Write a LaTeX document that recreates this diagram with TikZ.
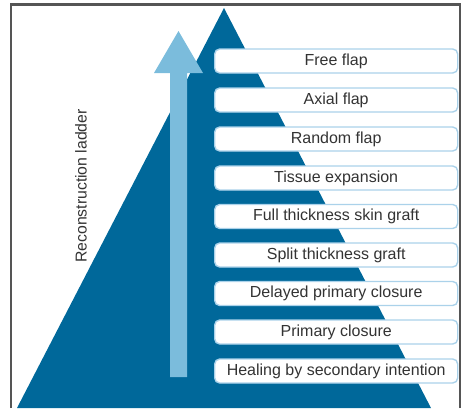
\documentclass[tikz,border=0pt]{standalone}
\usepackage{fontspec}
\setmainfont{Liberation Sans}
\definecolor{pyrblue}{HTML}{00689A}
\definecolor{arrowblue}{HTML}{7BBCDC}
\definecolor{boxedge}{HTML}{ABD2EA}
\definecolor{txtgray}{HTML}{333333}
\definecolor{framegray}{HTML}{555555}
\begin{document}
\begin{tikzpicture}[x=1pt,y=-1pt,
  rung/.style={draw=boxedge,line width=1.4pt,fill=white,rounded corners=5pt,
    minimum width=243pt,minimum height=24pt,inner sep=0pt,anchor=west,
    text=txtgray,font=\fontsize{16}{16}\selectfont},
  sidelabel/.style={rotate=90,text=txtgray,font=\fontsize{15.8}{16}\selectfont,inner sep=0pt}]
\useasboundingbox (0,0) rectangle (464,408);
% pyramid
\fill[pyrblue] (224,8) -- (431,408) -- (17,408) -- cycle;
% ladder arrow
\fill[arrowblue] (170,377) -- (187,377) -- (187,73) -- (203,73) -- (178.5,31)
  -- (154,73) -- (170,73) -- cycle;
% rungs
\node[rung] (free) at (214,61) {Free flap};
\node[rung] (axial) at (214,100) {Axial flap};
\node[rung] (random) at (214,139) {Random flap};
\node[rung] (tissue) at (214,178) {Tissue expansion};
\node[rung] (full) at (214,216.5) {Full thickness skin graft};
\node[rung] (split) at (214,255) {Split thickness graft};
\node[rung] (delayed) at (214,293.5) {Delayed primary closure};
\node[rung] (primary) at (214,332) {Primary closure};
\node[rung] (healing) at (214,371) {Healing by secondary intention};
% side label
\node[sidelabel] (ladder) at (81,186) {Reconstruction ladder};
% frame
\draw[framegray,line width=1.6pt] (11,408) -- (11,4.5);
\draw[framegray,line width=1.6pt] (460,408) -- (460,4.5);
\draw[framegray,line width=2.2pt] (10.2,4.5) -- (460.8,4.5);
\end{tikzpicture}
\end{document}
